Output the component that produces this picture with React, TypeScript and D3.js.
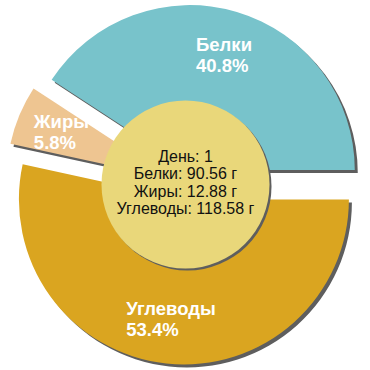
import { useLayoutEffect, useRef } from "react";
import * as d3 from "d3";

const nutrients = ["Белки", "Жиры", "Углеводы"];
const grams = [90.56, 12.88, 118.58];
const sliceColors = ["#78c3cb", "#eec591", "#daa520"];
const dayText = "День: 1";

export default function App() {
    const width = 370;
    const height = 370;
    const cx = 185.5;
    const cy = 184.5;
    const radius = 165;
    const explode = 15;
    const holeRadius = 84;

    const data = nutrients.map((name, i) => ({ name, value: grams[i], color: sliceColors[i] }));
    const total = d3.sum(grams);
    const pct = d3.format(".1%");

    // counter-clockwise from 3 o'clock
    const pie = d3.pie<any>().value((d) => d.value).sort(null)
        .startAngle(Math.PI / 2).endAngle(Math.PI / 2 - 2 * Math.PI);
    const arcs = pie(data);
    const arc = d3.arc<any>().innerRadius(0).outerRadius(radius);
    const labelArc = d3.arc<any>().innerRadius(120).outerRadius(120);

    const labelRefs = useRef<(SVGGElement | null)[]>([]);

    useLayoutEffect(() => {
        // center each label block on its anchor, lines left aligned
        labelRefs.current.forEach((g) => {
            if (!g) return;
            const ax = +(g.getAttribute("data-x") || 0);
            const ay = +(g.getAttribute("data-y") || 0);
            const inner = g.firstElementChild as SVGGElement;
            const box = inner.getBBox();
            inner.setAttribute("transform", `translate(${ax - box.x - box.width / 2},${ay - box.y - box.height / 2})`);
        });
    }, []);

    const shift = (d: any) => {
        const mid = (d.startAngle + d.endAngle) / 2;
        return [Math.sin(mid) * explode, -Math.cos(mid) * explode];
    };

    const centerLines = [dayText, ...nutrients.map((n, i) => `${n}: ${grams[i]} г`)];

    return (
        <svg width={width} height={height} style={{ position: "absolute", left: 0, top: 0 }}
            fontFamily="'Liberation Sans', Arial, sans-serif">
            <g transform={`translate(${cx},${cy})`}>
                {arcs.map((d, i) => {
                    const [dx, dy] = shift(d);
                    return <path key={`s-${i}`} d={arc(d) || ""} fill="#5e5e5e" transform={`translate(${dx + 3},${dy + 3})`} />;
                })}
                {arcs.map((d, i) => {
                    const [dx, dy] = shift(d);
                    return <path key={`p-${i}`} d={arc(d) || ""} fill={d.data.color} transform={`translate(${dx},${dy})`} />;
                })}
                {arcs.map((d, i) => {
                    const [dx, dy] = shift(d);
                    const [lx, ly] = labelArc.centroid(d);
                    return (
                        <g key={`l-${i}`} ref={(el) => { labelRefs.current[i] = el; }}
                            data-x={lx + dx} data-y={ly + dy}>
                            <g fill="#ffffff" fontWeight="bold" fontSize="18.5">
                                <text x="0" y="0">{d.data.name}</text>
                                <text x="0" y="21">{pct(d.data.value / total)}</text>
                            </g>
                        </g>
                    );
                })}
                <circle cx="2" cy="2" r={holeRadius} fill="#5e5e5e" />
                <circle cx="0" cy="0" r={holeRadius} fill="#e9d77a" />
                <g fontSize="16" textAnchor="middle" fill="#111">
                    {centerLines.map((t, i) => (
                        <text key={t} x="0" y={-23 + i * 17.5}>{t}</text>
                    ))}
                </g>
            </g>
        </svg>
    );
}
